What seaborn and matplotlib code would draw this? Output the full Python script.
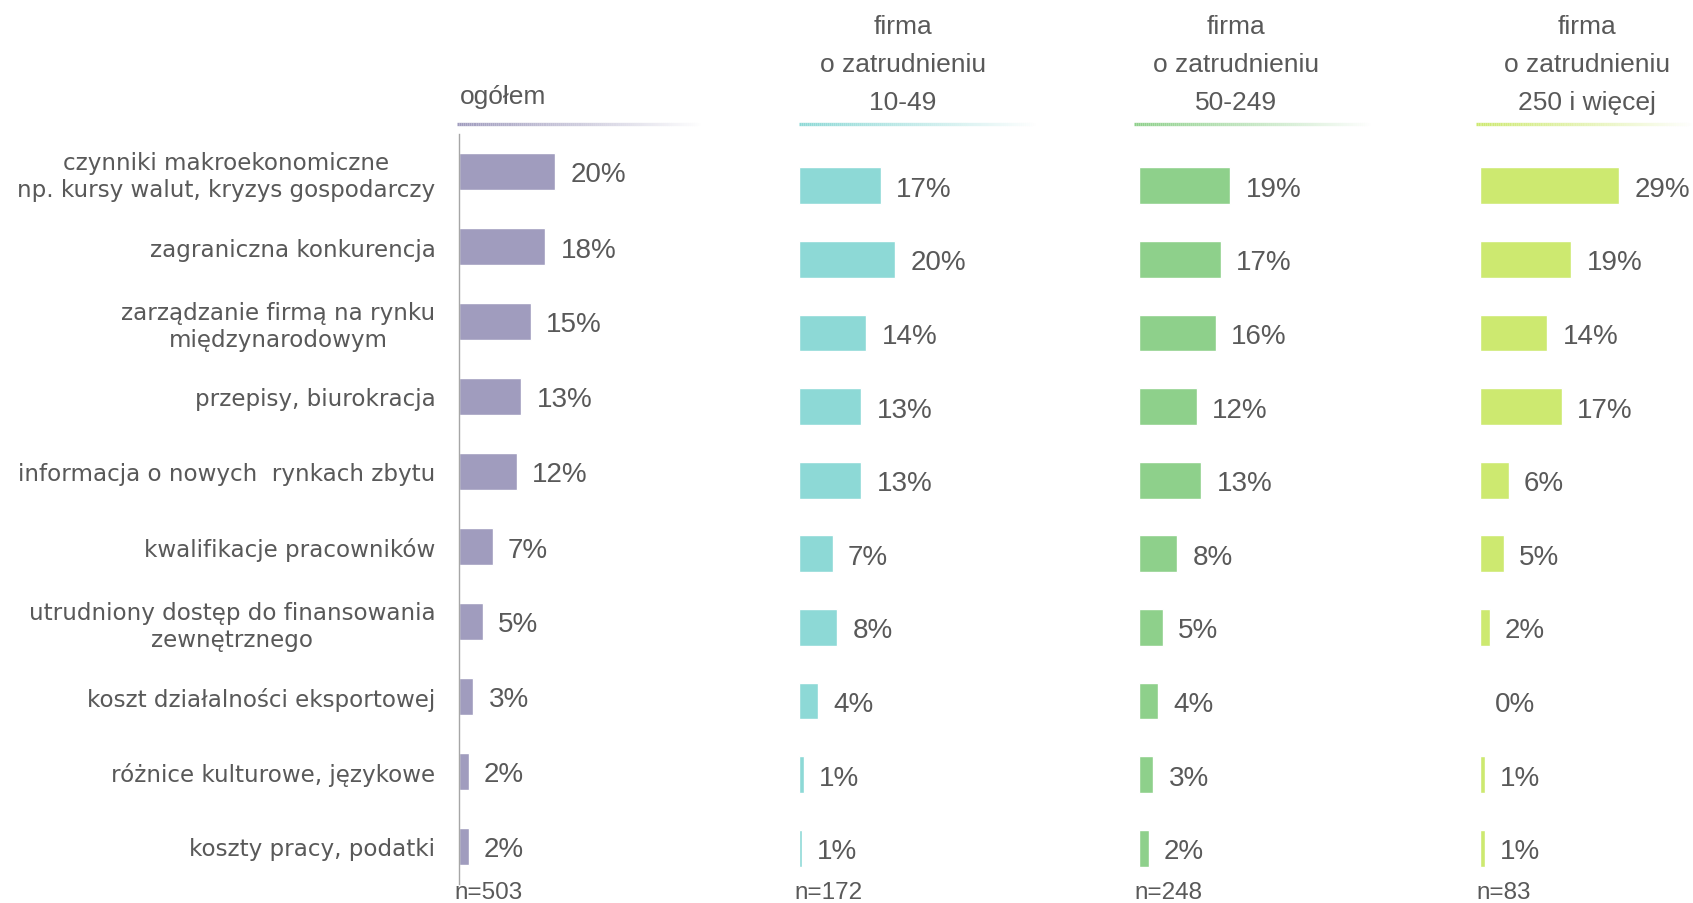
import matplotlib
matplotlib.use('Agg')

import numpy as np
import pandas as pd
import matplotlib.pyplot as plt
import seaborn as sns
from matplotlib.collections import LineCollection
from matplotlib.colors import to_rgba

# Data
categories = [
    'czynniki makroekonomiczne\nnp. kursy walut, kryzys gospodarczy',
    'zagraniczna konkurencja',
    'zarządzanie firmą na rynku\nmiędzynarodowym',
    'przepisy, biurokracja',
    'informacja o nowych  rynkach zbytu',
    'kwalifikacje pracowników',
    'utrudniony dostęp do finansowania\nzewnętrznego',
    'koszt działalności eksportowej',
    'różnice kulturowe, językowe',
    'koszty pracy, podatki',
]
ogolem = [20, 18, 15, 13, 12, 7, 5, 3, 2, 2]
firma_10_49 = [17, 20, 14, 13, 13, 7, 8, 4, 1, 0.6]
firma_50_249 = [19, 17, 16, 12, 13, 8, 5, 4, 3, 2]
firma_250 = [29, 19, 14, 17, 6, 5, 2, 0, 1, 1]

headers = ['ogółem',
           'firma\no zatrudnieniu\n10-49',
           'firma\no zatrudnieniu\n50-249',
           'firma\no zatrudnieniu\n250 i więcej']
sample_sizes = ['n=503', 'n=172', 'n=248', 'n=83']
colors = ['#A09CBE', '#8DD9D6', '#8ED08B', '#CDE970']

sns.set_style('white')
plt.rcParams['font.family'] = ['Liberation Sans', 'DejaVu Sans']
TEXT = '#595959'

W, H = 1693, 904
fig = plt.figure(figsize=(W / 100, H / 100), dpi=100)


def px_axes(x0, top, w, h):
    return fig.add_axes([x0 / W, 1 - (top + h) / H, w / W, h / H])


series = [ogolem, firma_10_49, firma_50_249, firma_250]
lefts = [459, 799, 1139, 1480]
tops = [135, 150, 150, 150]
heights = [750, 736, 736, 736]
xmax = 45

for k, vals in enumerate(series):
    ax = px_axes(lefts[k], tops[k], xmax * 4.8, heights[k])
    df = pd.DataFrame({'kategoria': categories, 'wartosc': vals})
    sns.barplot(data=df, x='wartosc', y='kategoria', ax=ax, color=colors[k],
                width=0.5, orient='h', saturation=1)
    ax.set_xlim(0, xmax)
    ax.set_ylim(9.5, -0.5)
    ax.set_xlabel('')
    ax.set_ylabel('')
    ax.set_xticks([])
    for s in ['top', 'right', 'bottom']:
        ax.spines[s].set_visible(False)
    if k == 0:
        ax.spines['left'].set_color('#A6A6A6')
        ax.spines['left'].set_linewidth(1)
        ax.tick_params(axis='y', length=0, pad=17)
        for t in ax.get_yticklabels():
            t.set_fontfamily('DejaVu Sans')
            t.set_fontsize(16.6)
            t.set_color(TEXT)
            t.set_multialignment('center')
            t.set_linespacing(1.25)
    else:
        ax.spines['left'].set_visible(False)
        ax.set_yticks([])
    for i, v in enumerate(vals):
        ax.annotate(f'{v:.0f}%', (v, i), xytext=(11, 0), textcoords='offset points',
                    va='center_baseline', ha='left', fontsize=20, color=TEXT,
                    annotation_clip=False)

# Headers
fig.text(460 / W, 1 - 97 / H, headers[0], ha='left', va='center',
         fontsize=19, color=TEXT)
for cx, h in zip([903, 1236, 1587], headers[1:]):
    fig.text(cx / W, 1 - 65 / H, h, ha='center', va='center', fontsize=19,
             color=TEXT, linespacing=1.74, multialignment='center')

# Gradient underlines
line_x = [(457, 702), (799, 1037), (1134, 1372), (1476, 1693)]
for (x0, x1), c in zip(line_x, colors):
    xs = np.linspace(x0, x1, 120) / W
    yy = 1 - 125 / H
    segs = [[(xs[j], yy), (xs[j + 1], yy)] for j in range(len(xs) - 1)]
    base = to_rgba(c)
    cols = [(base[0], base[1], base[2], a) for a in np.linspace(1, 0, len(segs))]
    lc = LineCollection(segs, colors=cols, linewidths=2.4, transform=fig.transFigure)
    fig.add_artist(lc)

# Sample sizes
for x, n in zip([454, 794, 1134, 1476], sample_sizes):
    fig.text(x / W, 1 - 893 / H, n, ha='left', va='center', fontsize=17.5, color=TEXT)

plt.savefig('out.png', dpi=100)
